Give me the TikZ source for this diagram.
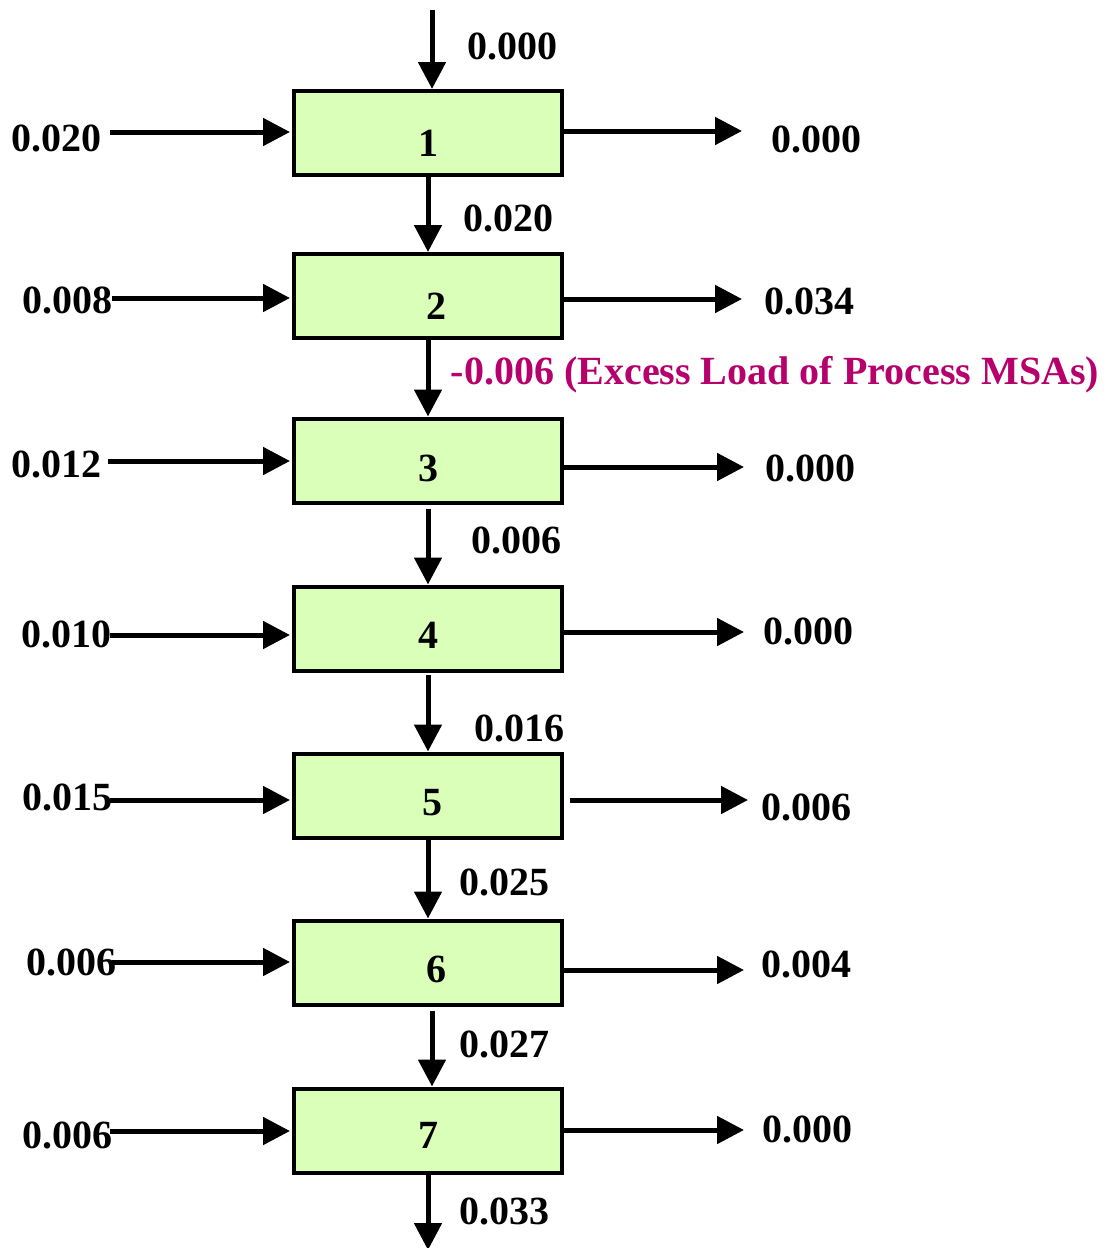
\documentclass[tikz,border=0pt]{standalone}
\usepackage{fontspec}
\setmainfont{Liberation Serif}
\usetikzlibrary{arrows.meta}
\definecolor{boxfill}{RGB}{217,255,184}
\definecolor{excess}{RGB}{182,0,108}
\tikzset{
  stage/.style={draw=black, line width=4pt, fill=boxfill, minimum width=268pt,
    minimum height=84pt, inner sep=0pt},
  flow/.style={line width=5pt, -{Triangle[width=27pt,length=27pt]}},
  val/.style={font=\fontsize{40}{44}\selectfont\bfseries, inner sep=0pt}
}
\begin{document}
\begin{tikzpicture}[x=1pt, y=-1pt]
\useasboundingbox (0,0) rectangle (1112,1248);

% process stages
\node[stage] (b1) at (428,133) {};
\node[stage] (b2) at (428,296) {};
\node[stage] (b3) at (428,460.5) {};
\node[stage] (b4) at (428,628.5) {};
\node[stage] (b5) at (428,795.5) {};
\node[stage] (b6) at (428,962.5) {};
\node[stage] (b7) at (428,1130.5) {};

% stage numbers
\node[val] (n1) at (428,143) {1};
\node[val] (n2) at (436,306) {2};
\node[val] (n3) at (428,468) {3};
\node[val] (n4) at (428,635) {4};
\node[val] (n5) at (432,803) {5};
\node[val] (n6) at (436,969) {6};
\node[val] (n7) at (428,1135) {7};

% main vertical stream
\coordinate (top) at (432,10);
\coordinate (bot) at (428,1250);
\draw[flow] (top) -- (top |- b1.north);
\draw[flow] (b1.south) -- (b2.north);
\draw[flow] (b2.south) -- (b3.north);
\draw[flow] ([yshift=-4pt]b3.south) -- (b4.north);
\draw[flow] ([yshift=-2pt]b4.south) -- (b5.north);
\draw[flow] (b5.south) -- (b6.north);
\draw[flow] ([xshift=4pt,yshift=-4pt]b6.south) -- ([xshift=4pt]b7.north);
\draw[flow] (b7.south) -- (bot);

% stream values
\node[val] (v0) at (512,46) {0.000};
\node[val] (v1) at (508,218) {0.020};
\node[val, text=excess] (v2) at (775,375) {-0.006 (Excess Load of Process MSAs)};
\node[val] (v3) at (516,540) {0.006};
\node[val] (v4) at (519,728) {0.016};
\node[val] (v5) at (504,882) {0.025};
\node[val] (v6) at (504,1044) {0.027};
\node[val] (v7) at (504,1211) {0.033};

% inlet streams
\coordinate (l1) at (110,132);
\coordinate (l2) at (112,298);
\coordinate (l3) at (108,461);
\coordinate (l4) at (110,635);
\coordinate (l5) at (110,800);
\coordinate (l6) at (112,962);
\coordinate (l7) at (110,1131);
\foreach \i in {1,...,7}{
  \draw[flow] (l\i) -- ([xshift=-2pt]l\i -| b\i.west);
}
\node[val] (in1) at (56,138) {0.020};
\node[val] (in2) at (67,300) {0.008};
\node[val] (in3) at (56,464) {0.012};
\node[val] (in4) at (66,634) {0.010};
\node[val] (in5) at (67,797) {0.015};
\node[val] (in6) at (71,962) {0.006};
\node[val] (in7) at (67,1135) {0.006};

% outlet streams
\coordinate (r1) at (742,131);
\coordinate (r2) at (742,299);
\coordinate (r3) at (744,467);
\coordinate (r4) at (744,632);
\coordinate (r5) at (748,800);
\coordinate (r6) at (744,970);
\coordinate (r7) at (744,1130);
\draw[flow] (r1 -| b1.east) -- (r1);
\draw[flow] (r2 -| b2.east) -- (r2);
\draw[flow] (r3 -| b3.east) -- (r3);
\draw[flow] (r4 -| b4.east) -- (r4);
\draw[flow] ([xshift=6pt]r5 -| b5.east) -- (r5);
\draw[flow] (r6 -| b6.east) -- (r6);
\draw[flow] (r7 -| b7.east) -- (r7);
\node[val] (out1) at (816,139) {0.000};
\node[val] (out2) at (809,301) {0.034};
\node[val] (out3) at (810,468) {0.000};
\node[val] (out4) at (808,631) {0.000};
\node[val] (out5) at (806,807) {0.006};
\node[val] (out6) at (806,964) {0.004};
\node[val] (out7) at (807,1129) {0.000};
\end{tikzpicture}
\end{document}
